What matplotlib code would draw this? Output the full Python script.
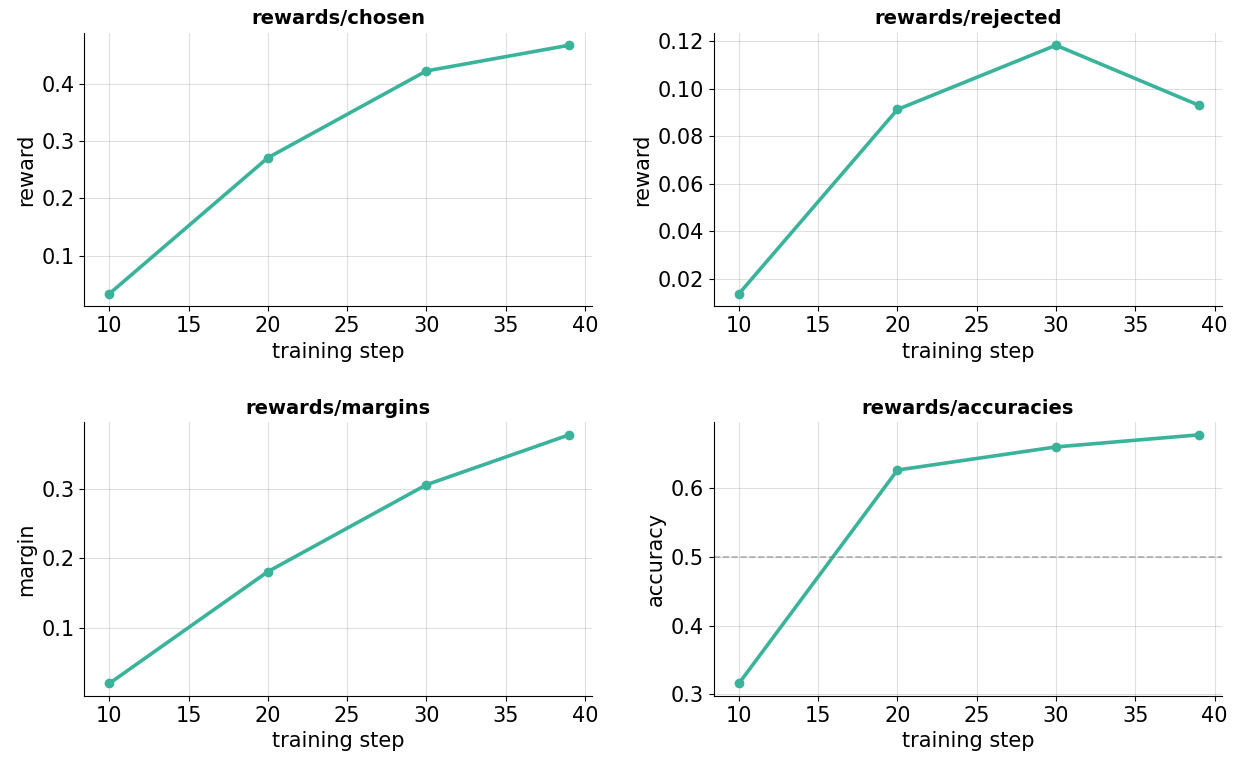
import numpy as np
import matplotlib.pyplot as plt

# ── Data ──────────────────────────────────────────────────────
steps      = [10, 20, 30, 39]
chosen     = [0.033, 0.271, 0.423, 0.468]
rejected   = [0.0137, 0.0912, 0.1182, 0.0930]
margins    = [0.0195, 0.1805, 0.3057, 0.3776]
accuracies = [0.3160, 0.6255, 0.6590, 0.6765]

titles  = ["rewards/chosen", "rewards/rejected", "rewards/margins", "rewards/accuracies"]
ylabels = ["reward", "reward", "margin", "accuracy"]
series  = [chosen, rejected, margins, accuracies]

color = "#3bb39b"

# ── Plot ──────────────────────────────────────────────────────
plt.rcParams["font.size"] = 15
fig, axes = plt.subplots(2, 2, figsize=(12.39, 7.63), dpi=100)
fig.subplots_adjust(left=0.068, right=0.986, top=0.957, bottom=0.088,
                    wspace=0.24, hspace=0.425)

for ax, title, ylab, vals in zip(axes.flat, titles, ylabels, series):
    ax.plot(steps, vals, color=color, lw=2.6, marker="o", ms=6)
    ax.set_title(title, fontweight="bold", fontsize=14)
    ax.set_xlabel("training step")
    ax.set_ylabel(ylab)
    ax.grid(True, alpha=0.4)
    ax.spines["top"].set_visible(False)
    ax.spines["right"].set_visible(False)
    ax.set_xticks([10, 15, 20, 25, 30, 35, 40])
    ax.set_xlim(8.42, 40.45)

axes[0, 1].set_yticks([0.02, 0.04, 0.06, 0.08, 0.10, 0.12])
axes[0, 1].yaxis.set_major_formatter(plt.FormatStrFormatter("%.2f"))
axes[1, 1].axhline(0.5, color="grey", lw=1.2, ls="--", alpha=0.6)

fig.savefig("out.png", dpi=100)
